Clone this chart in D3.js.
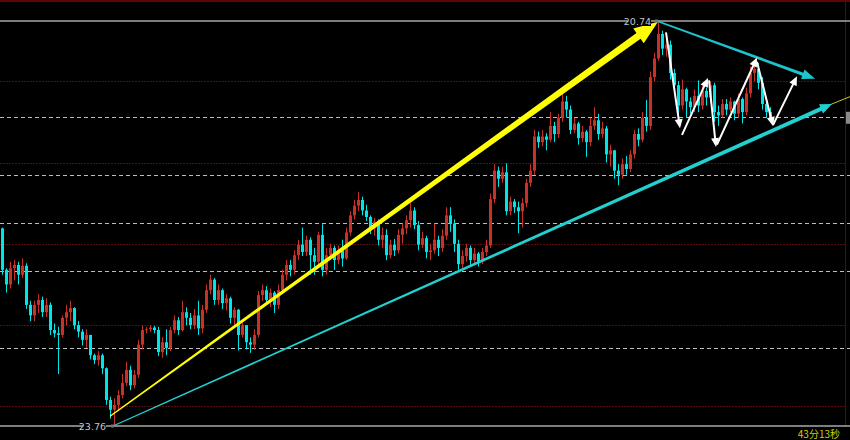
<!DOCTYPE html>
<html>
<head>
<meta charset="utf-8">
<script src="https://cdn.jsdelivr.net/npm/d3@7"></script>
<style>
  html, body { margin: 0; padding: 0; background: #000; }
  svg { display: block; }
</style>
</head>
<body>
<div class="chart"></div>
<script>
// chart size
var width = 850,
    height = 440

// candles: open of each bar is the close of the bar before
var firstOpen = 26.19
var closes = [25.68,25.50,25.70,25.74,25.62,25.73,25.25,25.12,25.25,25.31,
  25.16,25.25,24.94,24.90,24.88,25.09,25.16,25.21,25.00,24.92,
  24.82,24.88,24.63,24.57,24.63,24.47,24.08,23.96,24.02,24.14,
  24.29,24.45,24.26,24.39,24.76,24.94,24.95,24.97,24.94,24.67,
  24.79,24.72,24.94,25.06,24.94,25.16,25.09,25.00,25.12,24.96,
  25.19,25.43,25.56,25.31,25.43,25.27,25.33,25.09,25.19,24.88,
  25.00,24.79,24.76,24.88,25.37,25.43,25.31,25.40,25.25,25.43,
  25.62,25.74,25.68,25.86,25.99,25.90,26.05,25.86,25.78,26.11,
  25.68,25.86,25.95,25.80,25.92,25.82,26.14,26.35,26.47,26.54,
  26.41,26.33,26.19,26.27,26.05,26.11,25.86,25.99,25.92,26.11,
  26.19,26.29,26.41,26.23,25.99,26.07,25.90,25.92,26.05,25.95,
  26.10,26.35,26.25,26.00,25.75,25.85,25.95,25.80,25.88,25.78,
  25.90,25.98,26.55,26.90,26.80,26.88,26.40,26.52,26.45,26.40,
  26.50,26.75,26.90,27.32,27.25,27.32,27.28,27.45,27.35,27.55,
  27.75,27.65,27.40,27.48,27.30,27.38,27.25,27.45,27.52,27.35,
  27.42,27.10,27.15,26.90,26.85,26.98,26.92,27.10,27.35,27.28,
  27.55,27.45,28.05,28.28,28.58,28.40,28.45,28.10,27.95,27.70,
  27.90,27.75,27.68,27.82,27.70,27.88,27.80,27.95,27.62,27.58,
  27.72,27.65,27.75,27.60,27.78,27.62,27.85,28.10,28.15,27.98,
  27.72,27.62,27.55]
var highs = [26.20,25.70,25.78,25.80,25.78,25.82,25.76,25.30,25.30,25.38,
  25.35,25.33,25.28,25.02,24.98,25.12,25.25,25.30,25.22,25.05,
  24.95,24.95,24.88,24.65,24.68,24.65,24.48,24.12,24.10,24.20,
  24.40,24.55,24.50,24.45,24.82,25.00,24.98,25.00,24.99,24.98,
  24.85,24.95,24.98,25.12,25.10,25.30,25.22,25.15,25.20,25.30,
  25.25,25.50,25.62,25.58,25.50,25.45,25.38,25.35,25.22,25.20,
  25.05,25.00,24.85,24.95,25.42,25.50,25.48,25.45,25.42,25.50,
  25.68,25.80,25.80,25.92,26.05,26.20,26.10,26.08,25.95,26.15,
  26.24,25.95,26.00,25.98,25.98,26.05,26.20,26.40,26.54,26.64,
  26.58,26.48,26.35,26.32,26.30,26.20,26.18,26.05,26.06,26.18,
  26.25,26.35,26.50,26.45,26.28,26.15,26.10,26.00,26.25,26.10,
  26.18,26.45,26.45,26.30,26.05,25.92,26.00,25.98,25.95,25.90,
  25.95,26.05,26.62,26.98,26.95,26.95,26.99,26.58,26.55,26.52,
  26.56,26.80,26.98,27.40,27.38,27.40,27.36,27.62,27.50,27.60,
  27.87,27.82,27.70,27.55,27.50,27.45,27.40,27.55,27.68,27.60,
  27.50,27.45,27.22,27.10,26.98,27.05,27.08,27.15,27.40,27.42,
  27.62,27.77,28.12,28.35,28.74,28.62,28.55,28.50,28.15,28.00,
  28.02,27.92,27.80,27.90,28.01,27.95,27.92,28.00,27.98,27.70,
  27.78,27.78,27.80,27.76,27.85,27.80,27.92,28.18,28.24,28.22,
  28.05,27.78,27.68]
var lows = [25.62,25.40,25.45,25.55,25.50,25.58,25.20,25.05,25.05,25.15,
  25.10,25.10,24.88,24.85,24.40,24.85,25.00,25.05,24.95,24.85,
  24.75,24.72,24.58,24.52,24.50,24.40,24.02,23.85,23.76,23.95,
  24.10,24.25,24.20,24.22,24.35,24.70,24.90,24.92,24.90,24.62,
  24.60,24.63,24.68,24.90,24.88,24.92,25.00,24.95,24.95,24.88,
  24.90,25.15,25.38,25.25,25.25,25.20,25.18,25.02,25.00,24.69,
  24.85,24.70,24.66,24.70,24.85,25.30,25.25,25.22,25.15,25.20,
  25.40,25.55,25.60,25.62,25.80,25.85,25.85,25.62,25.62,25.72,
  25.60,25.62,25.80,25.68,25.75,25.72,25.80,26.10,26.30,26.40,
  26.35,26.28,26.12,26.10,25.98,25.95,25.80,25.82,25.85,25.88,
  26.00,26.12,26.20,26.18,25.92,25.95,25.82,25.80,25.88,25.85,
  25.90,26.05,26.15,25.90,25.68,25.70,25.78,25.72,25.75,25.72,
  25.75,25.85,25.95,26.50,26.70,26.75,26.35,26.35,26.38,26.13,
  26.20,26.45,26.70,26.85,27.18,27.20,27.15,27.25,27.25,27.30,
  27.50,27.55,27.35,27.36,27.22,27.25,27.07,27.20,27.40,27.28,
  27.30,27.00,26.95,26.80,26.72,26.80,26.85,26.88,27.05,27.20,
  27.25,27.38,27.40,28.00,28.25,28.32,28.30,28.02,27.85,27.60,
  27.65,27.55,27.60,27.62,27.62,27.65,27.70,27.72,27.50,27.45,
  27.55,27.58,27.62,27.52,27.55,27.48,27.58,27.80,28.00,27.90,
  27.65,27.55,27.52]

// horizontal levels
var priceMax = 28.74, priceMin = 23.76
var intLevels = [24, 25, 26, 27, 28]
var dashLevels = [27.56, 26.85, 26.26, 25.67, 24.72]
var labels = ["20.74", "23.76", "43分13秒"]

// drawings, as [bar index, price]
var yellowArrow = [[27, 23.88], [164, 28.73]]
var supportArrow = [[27.75, 23.76], [207.5, 27.72]]
var extLine = [[206, 27.69], [212, 27.81]]
var resistArrow = [[163.75, 28.74], [203.25, 28.03]]
var zigzag = [
  [[166, 28.60], [169.5, 27.42]],
  [[170, 27.34], [176.5, 28.04]],
  [[176.75, 28.01], [178.5, 27.19]],
  [[178.75, 27.22], [188.75, 28.29]],
  [[188.75, 28.24], [192.75, 27.45]],
  [[192.75, 27.46], [198.75, 28.06]]
]

var x = d3.scaleLinear().domain([0, 212]).range([2, 850])
var y = d3.scaleLinear().domain([priceMin, priceMax]).range([426, 21])

var svg = d3.select(".chart")
  .append("svg")
    .attr("width", width)
    .attr("height", height)
    .style("background", "#000")

// frame lines
svg.append("rect").attr("x", 0).attr("y", 0).attr("width", width).attr("height", 2).attr("fill", "#5c0606")
svg.append("line")
  .attr("x1", 845.5).attr("x2", 845.5).attr("y1", 0).attr("y2", 426)
  .attr("stroke", "#5c0606").attr("stroke-width", 1)

svg.selectAll(".intlvl")
  .data(intLevels)
  .enter()
  .append("line")
    .attr("x1", 0).attr("x2", 845)
    .attr("y1", function(d){ return Math.round(y(d)) + 0.5 })
    .attr("y2", function(d){ return Math.round(y(d)) + 0.5 })
    .attr("stroke", "#5a0c0c")
    .attr("stroke-dasharray", "2,1")

svg.selectAll(".dashlvl")
  .data(dashLevels)
  .enter()
  .append("line")
    .attr("x1", 0).attr("x2", 850)
    .attr("y1", function(d){ return Math.round(y(d)) + 0.5 })
    .attr("y2", function(d){ return Math.round(y(d)) + 0.5 })
    .attr("stroke", "#bdbdbd")
    .attr("stroke-dasharray", "4,3")

svg.selectAll(".edge")
  .data([priceMax, priceMin])
  .enter()
  .append("line")
    .attr("x1", 0).attr("x2", 850)
    .attr("y1", function(d){ return Math.round(y(d)) })
    .attr("y2", function(d){ return Math.round(y(d)) })
    .attr("stroke", "#a8a8a8")
    .attr("stroke-width", 1.5)

// build candle rows
var bars = closes.map(function(c, i) {
  var o = i == 0 ? firstOpen : closes[i - 1]
  return { i: i, o: o, c: c, h: Math.max(highs[i], o, c), l: Math.min(lows[i], o, c) }
})
function barColor(d) { return d.c >= d.o ? "#c8302a" : "#00e6e6" }

var g = svg.append("g")
g.selectAll(".wick")
  .data(bars)
  .enter()
  .append("line")
    .attr("x1", function(d){ return Math.round(x(d.i)) + 0.5 })
    .attr("x2", function(d){ return Math.round(x(d.i)) + 0.5 })
    .attr("y1", function(d){ return y(d.h) })
    .attr("y2", function(d){ return y(d.l) })
    .attr("stroke", barColor)
    .attr("stroke-width", 1)

g.selectAll(".body")
  .data(bars)
  .enter()
  .append("rect")
    .attr("x", function(d){ return Math.round(x(d.i)) - 1 })
    .attr("width", 3)
    .attr("y", function(d){ return y(Math.max(d.o, d.c)) })
    .attr("height", function(d){ return Math.max(1, Math.abs(y(d.o) - y(d.c))) })
    .attr("fill", barColor)

// arrow polygon that gets wider from tail to head
function arrow(pts, w0, w1, headLen, headW, color) {
  var p0 = [x(pts[0][0]), y(pts[0][1])], p1 = [x(pts[1][0]), y(pts[1][1])]
  var dx = p1[0] - p0[0], dy = p1[1] - p0[1]
  var len = Math.sqrt(dx * dx + dy * dy)
  var ux = dx / len, uy = dy / len, nx = -uy, ny = ux
  var b = [p1[0] - ux * headLen, p1[1] - uy * headLen]
  var poly = [
    [p0[0] + nx * w0 / 2, p0[1] + ny * w0 / 2],
    [b[0] + nx * w1 / 2, b[1] + ny * w1 / 2],
    [b[0] + nx * headW, b[1] + ny * headW],
    p1,
    [b[0] - nx * headW, b[1] - ny * headW],
    [b[0] - nx * w1 / 2, b[1] - ny * w1 / 2],
    [p0[0] - nx * w0 / 2, p0[1] - ny * w0 / 2]
  ]
  svg.append("path")
    .attr("d", d3.line()(poly) + "Z")
    .attr("fill", color)
}

svg.append("line")
  .attr("x1", x(extLine[0][0])).attr("y1", y(extLine[0][1]))
  .attr("x2", x(extLine[1][0])).attr("y2", y(extLine[1][1]))
  .attr("stroke", "#c8c820").attr("stroke-width", 1)

arrow(yellowArrow, 1.4, 7, 24, 9, "#ffff00")
arrow(supportArrow, 1.2, 4, 12, 5, "#22d0d0")
arrow(resistArrow, 1.8, 3.2, 13, 5, "#1cc4cc")
zigzag.forEach(function(s) { arrow(s, 2, 2, 9, 4, "#ffffff") })

// last price marker on the right edge
svg.append("rect")
  .attr("x", 846).attr("y", y(closes[closes.length - 1]) - 6)
  .attr("width", 4).attr("height", 12)
  .attr("fill", "#8a8a8a")

// high / low labels
var hi = bars[d3.maxIndex(bars, function(d){ return d.h })]
var lo = bars[d3.minIndex(bars, function(d){ return d.l })]
var tags = [
  { t: labels[0], x: x(hi.i) - 7, y: y(priceMax) },
  { t: labels[1], x: x(lo.i) - 8, y: y(priceMin) }
]
svg.selectAll(".tagbg")
  .data(tags)
  .enter()
  .append("rect")
    .attr("x", function(d){ return d.x - 23 })
    .attr("y", function(d){ return d.y - 5 })
    .attr("width", 23).attr("height", 10)
    .attr("fill", "#000")
svg.selectAll(".tag")
  .data(tags)
  .enter()
  .append("text")
    .text(function(d){ return d.t })
    .attr("x", function(d){ return d.x })
    .attr("y", function(d){ return d.y + 3.5 })
    .attr("text-anchor", "end")
    .attr("fill", "#c4c4c4")
    .style("font-family", "DejaVu Sans, sans-serif")
    .style("font-size", "9.5px")

svg.selectAll(".mark")
  .data([hi, lo])
  .enter()
  .append("rect")
    .attr("x", function(d){ return x(d.i) - 3 })
    .attr("y", function(d, k){ return (k == 0 ? y(priceMax) : y(priceMin)) - 1.5 })
    .attr("width", 3).attr("height", 3)
    .attr("fill", "#777")

svg.append("text")
  .text(labels[2])
  .attr("x", 840).attr("y", 438)
  .attr("text-anchor", "end")
  .attr("fill", "#d0d000")
  .style("font-family", "Noto Sans CJK SC, sans-serif")
  .style("font-size", "10px")
</script>
</body>
</html>
